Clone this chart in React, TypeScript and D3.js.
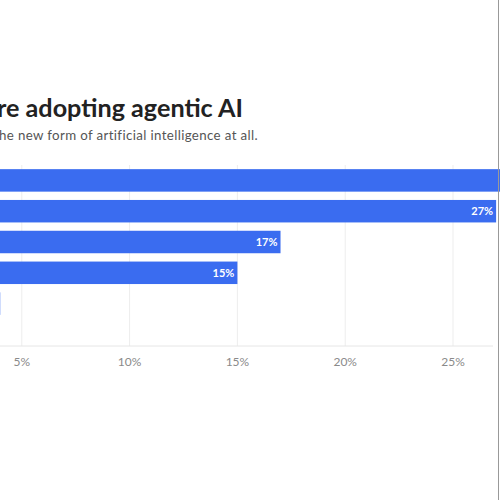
import React from "react";
import * as d3 from "d3";

const categories = ["Exploring", "Piloting", "Scaling in some functions", "Scaling widely", "Fully deployed"];
const values = [31, 27, 17, 15, 4];
const ticks = [0, 5, 10, 15, 20, 25];

const W = 500;
const H = 500;

export default function App() {
  const x = d3.scaleLinear().domain([0, 25]).range([-86, 453]);
  const y = d3.scaleBand<string>().domain(categories).range([165, 319]).paddingInner(0.27).paddingOuter(0.135);
  const fmt = (v: number) => `${v}%`;
  return (
    <svg width={W} height={H} style={{ position: "fixed", left: 0, top: 0, background: "#fff" }} fontFamily="Lato, 'Noto Sans', sans-serif">
      <text x={243} y={117} textAnchor="end" fontSize={25.2} fontWeight={700} fill="#222">
        Few companies are adopting agentic AI
      </text>
      <text x={258} y={140} textAnchor="end" fontSize={13.3} letterSpacing={0.36} fill="#555">
        Most firms are not yet using the new form of artificial intelligence at all.
      </text>
      {ticks.map((t) => (
        <line key={"g" + t} x1={x(t)} x2={x(t)} y1={165} y2={346} stroke="#ededed" strokeWidth={1} />
      ))}
      <line x1={x(0)} x2={493} y1={346} y2={346} stroke="#e6e6e6" strokeWidth={1} />
      {categories.map((c, i) => (
        <g key={c}>
          <rect x={x(0)} y={y(c)} width={x(values[i]) - x(0)} height={y.bandwidth()} fill="#3a6cf0" />
          <text
            x={x(values[i]) - 3}
            y={(y(c) as number) + y.bandwidth() / 2}
            dy="0.35em"
            textAnchor="end"
            fontSize={11}
            fontWeight={700}
            fill="#fff"
          >
            {fmt(values[i])}
          </text>
        </g>
      ))}
      {ticks.map((t) => (
        <text key={"t" + t} x={x(t)} y={366} textAnchor="middle" fontSize={12} fill="#8a8a8a">
          {fmt(t)}
        </text>
      ))}
      <line x1={498.5} x2={498.5} y1={0} y2={H} stroke="#999" strokeWidth={1} />
    </svg>
  );
}
